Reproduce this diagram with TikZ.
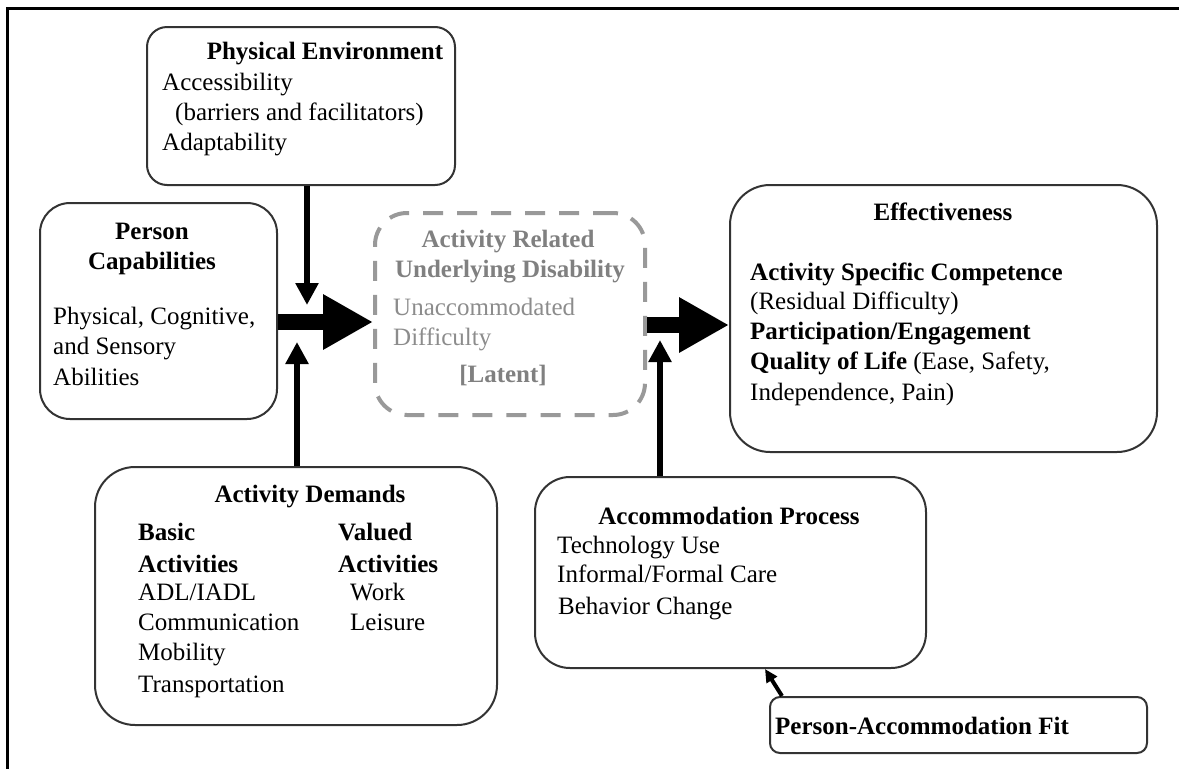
\documentclass[tikz,border=0pt]{standalone}
\usepackage{fontspec}
\setmainfont{Liberation Serif}
\usetikzlibrary{arrows.meta}

\begin{document}
\begin{tikzpicture}[x=1pt,y=-1pt,
    box/.style={draw=black!80, line width=2pt, rounded corners=#1, inner sep=0pt},
    box/.default=25pt,
    dashbox/.style={draw=black!40, line width=4pt, dash pattern=on 20pt off 14pt, rounded corners=32pt, inner sep=0pt},
    txt/.style={anchor=base west, inner sep=0pt, font=\fontsize{25}{30}\selectfont},
    ttl/.style={txt, anchor=base, font=\fontsize{25}{30}\selectfont\bfseries},
    bigarrow/.style={line width=16pt, -{Triangle[length=50pt,width=52pt]}},
    thinarrow/.style={line width=6pt, -{Triangle[length=22pt,width=22pt]}},
    smallarrow/.style={line width=4pt, -{Triangle[length=13pt,width=12pt]}}]
    \useasboundingbox (0,0) rectangle (1179,769);
    % outer frame
    \draw [line width=3pt] (1179,8) -- (7,8) -- (7,769);
    % boxes
    \node [box=20pt, minimum width=308pt, minimum height=158pt] (pe) at (301,106) {};
    \node [box=30pt, minimum width=237pt, minimum height=216pt] (cap) at (158.5,311) {};
    \node [dashbox, minimum width=270pt, minimum height=202pt] (dis) at (510,314) {};
    \node [box=40pt, minimum width=427pt, minimum height=267pt] (eff) at (943.5,318.5) {};
    \node [box=40pt, minimum width=402pt, minimum height=258pt] (dem) at (296,596) {};
    \node [box=35pt, minimum width=391pt, minimum height=191pt] (acc) at (730.5,572.5) {};
    \node [box=10pt, minimum width=377pt, minimum height=56pt] (fit) at (958.5,725) {};
    % physical environment
    \node [ttl] (pet) at (325,59) {Physical Environment};
    \node [txt] (pe1) at (162,90) {Accessibility};
    \node [txt] (pe2) at (175,120) {(barriers and facilitators)};
    \node [txt] (pe3) at (162,150) {Adaptability};
    % person capabilities
    \node [ttl] (capt1) at (152,239) {Person};
    \node [ttl] (capt2) at (152,269) {Capabilities};
    \node [txt] (cap1) at (53,324) {Physical, Cognitive,};
    \node [txt] (cap2) at (53,354) {and Sensory};
    \node [txt] (cap3) at (53,385) {Abilities};
    % underlying disability
    \node [ttl, text=black!50] (dist1) at (508,247) {Activity Related};
    \node [ttl, text=black!50] (dist2) at (510,277) {Underlying Disability};
    \node [txt, text=black!45] (dis1) at (393,315) {Unaccommodated};
    \node [txt, text=black!45] (dis2) at (393,345) {Difficulty};
    \node [ttl, text=black!50] (dis3) at (503,382) {[Latent]};
    % effectiveness
    \node [ttl] (efft) at (943,220) {Effectiveness};
    \node [txt, font=\fontsize{25}{30}\selectfont\bfseries] (eff1) at (750,280) {Activity Specific Competence};
    \node [txt] (eff2) at (750,309) {(Residual Difficulty)};
    \node [txt, font=\fontsize{25}{30}\selectfont\bfseries] (eff3) at (750,339) {Participation/Engagement};
    \node [txt] (eff4) at (750,369) {\textbf{Quality of Life} (Ease, Safety,};
    \node [txt] (eff5) at (750,400) {Independence, Pain)};
    % activity demands
    \node [ttl] (demt) at (310,502) {Activity Demands};
    \node [txt, font=\fontsize{25}{30}\selectfont\bfseries] (dem1) at (138,540) {Basic};
    \node [txt, font=\fontsize{25}{30}\selectfont\bfseries] (dem2) at (138,572) {Activities};
    \node [txt] (dem3) at (138,600) {ADL/IADL};
    \node [txt] (dem4) at (138,630) {Communication};
    \node [txt] (dem5) at (138,660) {Mobility};
    \node [txt] (dem6) at (138,692) {Transportation};
    \node [txt, font=\fontsize{25}{30}\selectfont\bfseries] (dem7) at (338,540) {Valued};
    \node [txt, font=\fontsize{25}{30}\selectfont\bfseries] (dem8) at (338,572) {Activities};
    \node [txt] (dem9) at (350,600) {Work};
    \node [txt] (dem10) at (350,630) {Leisure};
    % accommodation process
    \node [ttl] (acct) at (729,524) {Accommodation Process};
    \node [txt] (acc1) at (557,553) {Technology Use};
    \node [txt] (acc2) at (557,582) {Informal/Formal Care};
    \node [txt] (acc3) at (558,614) {Behavior Change};
    \node [txt, font=\fontsize{25}{30}\selectfont\bfseries] (fitt) at (775,734) {Person-Accommodation Fit};
    % arrows
    \coordinate (topin) at (307,305);
    \coordinate (botin) at (297,342);
    \coordinate (accin) at (660,340);
    \draw [bigarrow] ([yshift=-11pt]cap.east) -- ([yshift=-11pt]cap.east -| dis.west);
    \draw [bigarrow] ([yshift=-11pt]dis.east) -- ([yshift=-11pt]dis.east -| eff.west);
    \draw [thinarrow] (pe.south -| topin) -- (topin);
    \draw [thinarrow] (dem.north -| botin) -- (botin);
    \draw [thinarrow] (acc.north -| accin) -- (accin);
    \draw [smallarrow] ([xshift=13pt]fit.north west) -- ([xshift=231pt]acc.south west);
\end{tikzpicture}
\end{document}
